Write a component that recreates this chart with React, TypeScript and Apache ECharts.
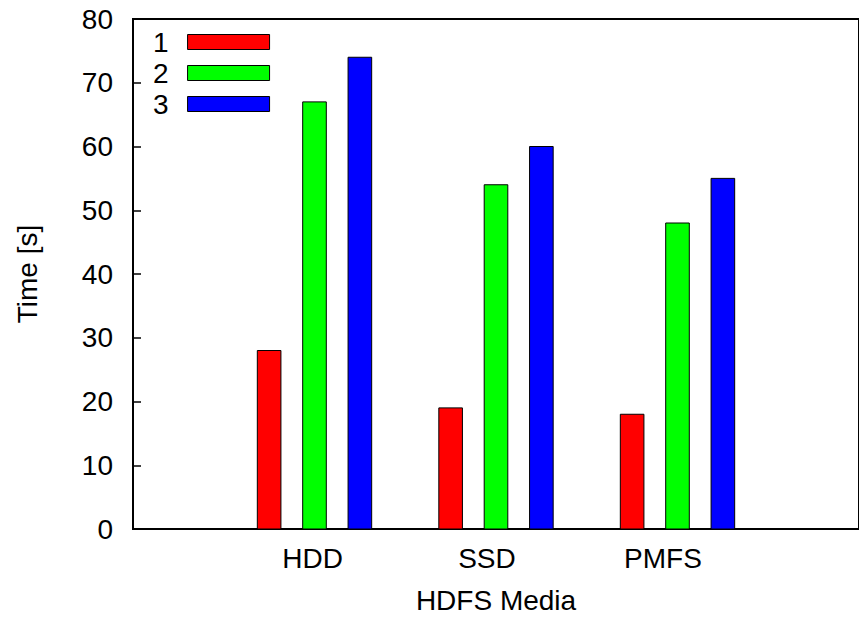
import React, { useEffect, useRef } from "react";
import * as echarts from "echarts";

const categories = ["HDD", "SSD", "PMFS"];
const labelPositions = [0.99, 1.95, 2.92];
const seriesNames = ["1", "2", "3"];
const seriesColors = ["#ff0000", "#00ff00", "#0000ff"];
const values1 = [28, 19, 18];
const values2 = [67, 54, 48];
const values3 = [74, 60, 55];
const allValues = [values1, values2, values3];
const offsets = [-0.25, 0, 0.25];
const barWidth = 0.13;
const yTicks = { min: 0, max: 80, interval: 10 };

const FONT = "'Liberation Sans', Arial, sans-serif";
const FS = 28;

export default function App() {
  const ref = useRef<HTMLDivElement>(null);
  useEffect(() => {
    document.body.style.margin = "0";
    const chart = echarts.init(ref.current!, undefined, { renderer: "svg" });
    const series = allValues.map((vals, si) => ({
      type: "custom",
      name: seriesNames[si],
      itemStyle: { color: seriesColors[si] },
      data: vals.map((v, gi) => [gi + 1 + offsets[si], v]),
      renderItem: (params: any, api: any) => {
        const x = api.value(0);
        const y = api.value(1);
        const p0 = api.coord([x - barWidth / 2, y]);
        const p1 = api.coord([x + barWidth / 2, 0]);
        return {
          type: "rect",
          shape: { x: p0[0], y: p0[1], width: p1[0] - p0[0], height: p1[1] - p0[1] },
          style: { fill: seriesColors[si], stroke: "#000", lineWidth: 1 },
        };
      },
    }));
    chart.setOption({
      animation: false,
      textStyle: { fontFamily: FONT },
      grid: {
        left: 133,
        top: 19,
        bottom: 92,
        right: -8,
        show: true,
        borderColor: "#000",
        borderWidth: 2,
        backgroundColor: "transparent",
      },
      legend: {
        orient: "vertical",
        left: 153,
        top: 28,
        padding: 0,
        align: "right",
        icon: "rect",
        itemWidth: 82,
        itemHeight: 15,
        itemGap: 3,
        itemStyle: { borderColor: "#000", borderWidth: 1 },
        textStyle: { fontSize: FS, color: "#000", fontFamily: FONT, padding: [0, 14, 0, 0] },
        data: seriesNames,
      },
      xAxis: {
        type: "value",
        min: 0,
        max: 4,
        name: "HDFS Media",
        nameLocation: "middle",
        nameGap: 57,
        nameTextStyle: { fontSize: FS, color: "#000", fontFamily: FONT },
        axisLine: { show: false },
        axisTick: { show: false },
        splitLine: { show: false },
        axisLabel: {
          customValues: labelPositions,
          fontSize: FS,
          color: "#000",
          margin: 15,
          fontFamily: FONT,
          formatter: (v: number) => {
            const idx = labelPositions.findIndex((p) => Math.abs(p - v) < 1e-6);
            return idx >= 0 ? categories[idx] : "";
          },
        },
      },
      yAxis: {
        type: "value",
        min: yTicks.min,
        max: yTicks.max,
        interval: yTicks.interval,
        name: "Time [s]",
        nameLocation: "middle",
        nameGap: 92,
        nameTextStyle: { fontSize: FS, color: "#000", fontFamily: FONT },
        axisLine: { show: false },
        axisTick: { show: true, inside: true, length: 8, lineStyle: { color: "#000", width: 1.5 } },
        splitLine: { show: false },
        axisLabel: { fontSize: FS, color: "#000", margin: 20, fontFamily: FONT },
      },
      series,
    });
    return () => chart.dispose();
  }, []);
  return <div ref={ref} style={{ width: 859, height: 621 }} />;
}
